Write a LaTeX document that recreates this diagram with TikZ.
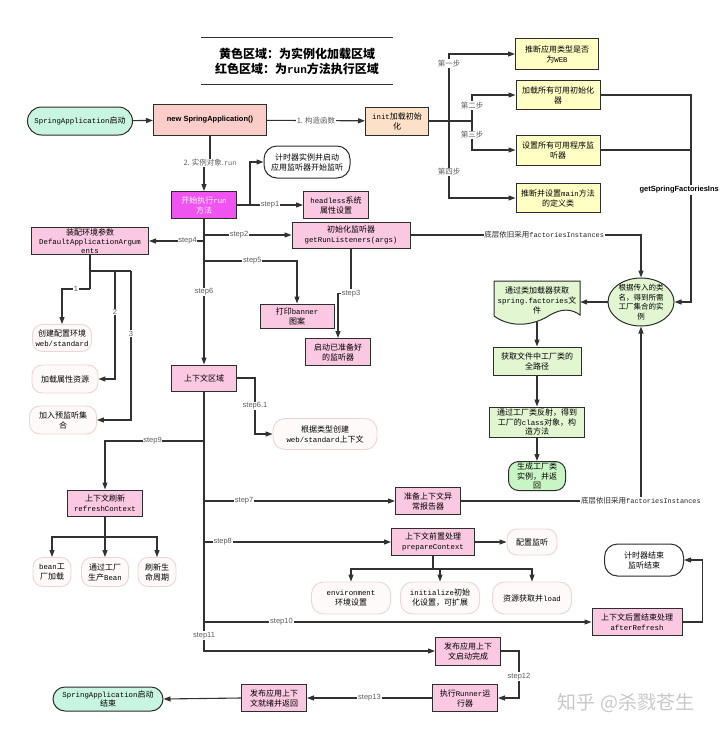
\documentclass[tikz,border=0pt]{standalone}
\usepackage{fontspec}
\setmainfont{Noto Sans CJK SC}
\newfontfamily\latf[Scale=0.92]{Liberation Mono}
\newfontfamily\sansf{Liberation Sans}
\usetikzlibrary{arrows.meta,shapes.geometric}
\newcommand\lat[1]{{\latf #1}}
\definecolor{pinkc}{RGB}{250,200,225}
\definecolor{mintc}{RGB}{200,245,225}
\definecolor{salmc}{RGB}{250,205,200}
\definecolor{peachc}{RGB}{252,225,200}
\definecolor{yelc}{RGB}{255,255,196}
\definecolor{grnc}{RGB}{226,246,210}
\definecolor{grntwo}{RGB}{200,245,195}
\definecolor{magc}{RGB}{240,84,240}
\definecolor{palef}{RGB}{254,250,250}
\definecolor{palec}{RGB}{238,212,212}
\definecolor{linec}{RGB}{50,50,50}
\definecolor{boxc}{RGB}{45,45,45}
\definecolor{lblc}{RGB}{95,95,95}
\definecolor{wmc}{RGB}{200,200,200}
\begin{document}
\begin{tikzpicture}[x=1pt,y=-1pt,
 nf/.style={font=\fontsize{8}{10}\selectfont},
 bx/.style={draw=boxc, line width=1pt, align=center, inner sep=1pt, nf, text=black},
 pinkb/.style={bx, fill=pinkc},
 yelb/.style={bx, fill=yelc},
 grnb/.style={bx, fill=grnc},
 paleb/.style={draw=palec, line width=0.9pt, fill=palef, rounded corners=10pt, align=center, inner sep=1pt, nf},
 whiteb/.style={bx, fill=white, rounded corners=13pt},
 sz/.style 2 args={minimum width=#1pt, minimum height=#2pt},
 ln/.style={draw=linec, line width=1.1pt},
 arr/.style={ln, -{Triangle[length=7pt,width=5pt]}},
 lbl/.style={font=\sansf\fontsize{7.5}{9}\selectfont, text=lblc, fill=white, inner sep=0.8pt},
 clbl/.style={font=\fontsize{7.5}{9}\selectfont, text=lblc, fill=white, inner sep=0.8pt},
 dlbl/.style={font=\fontsize{7.5}{9}\selectfont, text=black!85, fill=white, inner sep=0.8pt},
]
\fill[white] (0,0) rectangle (720,731);
\useasboundingbox (0,0) rectangle (720,731);

% title
\node[minimum width=191pt, minimum height=46pt, align=center, inner sep=0pt,
      font=\bfseries\fontsize{12}{15}\selectfont] (title) at (297,61)
      {黄色区域：为实例化加载区域\\红色区域：为\lat{run}方法执行区域};
\draw[line width=1pt, draw=linec] (title.north west) -- (title.north east);
\draw[line width=1pt, draw=linec] (title.south west) -- (title.south east);

% top row
\node[bx, fill=mintc, rounded corners=14pt, sz={105}{28}] (sa) at (80,121) {\lat{SpringApplication}启动};
\node[bx, fill=salmc, sz={113}{31}, font=\sansf\bfseries\fontsize{7.5}{9}\selectfont] (nsa) at (210,120) {new SpringApplication()};
\node[bx, fill=peachc, sz={63}{28}] (init) at (397,121) {\lat{init}加载初始\\化};

\node[yelb, sz={83}{31}] (ya) at (557,54) {推断应用类型是否\\为\lat{WEB}};
\node[yelb, sz={84}{29}] (yb) at (558,95) {加载所有可用初始化\\器};
\node[yelb, sz={84}{30}] (yc) at (558,150) {设置所有可用程序监\\听器};
\node[yelb, sz={84}{29}] (yd) at (558,198) {推断并设置\lat{main}方法\\的定义类};

% factories area
\node[ellipse, draw=boxc, line width=1pt, fill=grnc, minimum width=66pt, minimum height=48pt, inner sep=0pt] (ell) at (641,302) {};
\node[align=center, inner sep=0pt, font=\fontsize{7.5}{9.5}\selectfont] (ellt) at (ell.center) {根据传入的类\\名，得到所需\\工厂集合的实\\例};

\fill[grnc] (494,281) -- (580,281) -- (580,315) .. controls (572,309) and (562,308) .. (550,315) .. controls (535,325) and (512,329) .. (494,316) -- cycle;
\draw[draw=boxc, line width=1pt] (494,281) -- (580,281) -- (580,315) .. controls (572,309) and (562,308) .. (550,315) .. controls (535,325) and (512,329) .. (494,316) -- cycle;
\node[align=center, inner sep=0pt, nf, minimum width=86pt, minimum height=41pt] (docn) at (537,301.5) {\raisebox{3pt}{\begin{tabular}{@{}c@{}}通过类加载器获取\\\lat{spring.factories}文\\件\end{tabular}}};

\node[grnb, sz={88}{28}] (g1) at (537,361) {获取文件中工厂类的\\全路径};
\node[grnb, sz={95}{30}, font=\fontsize{8}{9.5}\selectfont] (g2) at (537,422) {通过工厂类反射，得到\\工厂的\lat{class}对象，构\\造方法};
\node[bx, fill=grntwo, rounded corners=10pt, sz={57}{29}, font=\fontsize{8}{9.5}\selectfont] (g3) at (537,476) {生成工厂类\\实例，并返\\回};

% run area
\node[bx, fill=magc, sz={65}{27}, text=white] (run) at (204,205) {开始执行\lat{run}\\方法};
\node[whiteb, sz={86}{32}] (timer) at (307,162) {计时器实例并启动\\应用监听器开始监听};
\node[pinkb, sz={65}{27}] (hl) at (336,205) {\lat{headless}系统\\属性设置};
\node[pinkb, sz={118}{26}] (grl) at (351,235) {初始化监听器\\\lat{getRunListeners(args)}};
\node[pinkb, sz={117}{26}, font=\fontsize{8}{9}\selectfont] (env) at (90,241) {装配环境参数\\\lat{DefaultApplicationArgum}\\\lat{ents}};
\node[pinkb, sz={74}{24}] (banner) at (297,316) {打印\lat{banner}\\图案};
\node[pinkb, sz={65}{27}] (started) at (338,352) {启动已准备好\\的监听器};
\node[pinkb, sz={65}{26}] (ctx) at (204,378) {上下文区域};
\node[paleb, sz={104}{31}, rounded corners=12pt] (c61) at (325,434) {根据类型创建\\\lat{web/standard}上下文};

\node[paleb, sz={59}{27}] (e1) at (62,338) {创建配置环境\\\lat{web/standard}};
\node[paleb, sz={66}{28}] (e2) at (65,379) {加载属性资源};
\node[paleb, sz={67}{28}] (e3) at (63,420) {加入预监听集\\合};

\node[pinkb, sz={75}{26}] (rc) at (105,503) {上下文刷新\\\lat{refreshContext}};
\node[paleb, sz={38}{29}] (r1) at (52,572) {\lat{bean}工\\厂加载};
\node[paleb, sz={47}{29}] (r2) at (105,572) {通过工厂\\生产\lat{Bean}};
\node[paleb, sz={38}{29}] (r3) at (157,572) {刷新生\\命周期};

\node[pinkb, sz={65}{27}] (exc) at (428,501) {准备上下文异\\常报告器};
\node[pinkb, sz={83}{27}] (pc) at (433,542) {上下文前置处理\\\lat{prepareContext}};
\node[paleb, sz={50}{26}] (cfg) at (532,542) {配置监听};
\node[paleb, sz={79}{32}, rounded corners=12pt] (p1) at (351,598) {\lat{environment}\\环境设置};
\node[paleb, sz={79}{32}, rounded corners=12pt] (p2) at (440,598) {\lat{initialize}初始\\化设置，可扩展};
\node[paleb, sz={79}{32}, rounded corners=12pt] (p3) at (532,598) {资源获取并\lat{load}};

\node[pinkb, sz={90}{27}] (ar) at (637,622) {上下文后置结束处理\\\lat{afterRefresh}};
\node[whiteb, sz={79}{32}] (tend) at (644,560) {计时器结束\\监听结束};

\node[pinkb, sz={65}{28}] (pub) at (468,651) {发布应用上下\\文启动完成};
\node[pinkb, sz={65}{27}] (runr) at (465,698) {执行\lat{Runner}运\\行器};
\node[pinkb, sz={65}{27}] (ready) at (274,698) {发布应用上下\\文就绪并返回};
\node[bx, fill=mintc, rounded corners=12pt, sz={110}{24}, font=\fontsize{8}{9}\selectfont] (saend) at (108,699) {\lat{SpringApplication}启动\\结束};

\node[text=wmc, font=\fontsize{19}{22}\selectfont, inner sep=0pt] (wm) at (626,703) {知乎 @杀戮苍生};

% coordinates
\coordinate (b1) at (449,121);
\coordinate (b2) at (472,121);
\coordinate (gtop) at (691,95);
\coordinate (t2) at (204,235);
\coordinate (t4) at (204,241);
\coordinate (t5) at (204,261);
\coordinate (t9) at (204,441);
\coordinate (t7) at (204,501);
\coordinate (t8) at (204,542);
\coordinate (t10) at (204,622);
\coordinate (ej) at (90,271);
\coordinate (ec1) at (90,289);
\coordinate (ec2) at (115,271);
\coordinate (ec3) at (131,271);
\coordinate (rj) at (105,537);
\coordinate (pj) at (433,569);

% connectors top
\draw[arr] (sa) -- (nsa);
\draw[arr] (nsa) -- node[clbl]{1. 构造函数} (init);
\draw[ln] (init.east) -- (b2);
\draw[arr] (b1) |- node[clbl, pos=0.43]{第一步} (ya.west);
\draw[arr] (b1) |- node[clbl, pos=0.33]{第四步} (yd.west);
\draw[arr] (b2) |- node[clbl, pos=0.3]{第二步} (yb.west);
\draw[arr] (b2) |- node[clbl, pos=0.24]{第三步} (yc.west);

\draw[arr] (yb.east) -- (gtop) |- (ell.east);
\draw[ln] (yc.east) -- (yc.east -| gtop);
\node[font=\sansf\bfseries\fontsize{7.5}{9}\selectfont, fill=white, anchor=east, inner sep=1pt] (gsf) at (720,190) {getSpringFactoriesIns};

\draw[arr] (grl.east) -| node[dlbl, pos=0.29]{底层依旧采用\lat{factoriesInstances}} (ell.north);
\draw[arr] (ell.west) -- (ell.west -| docn.east);
\draw[arr] (docn.south) -- (g1.north);
\draw[arr] (g1) -- (g2);
\draw[arr] (g2) -- (g3);
\draw[arr] (exc.east) -| node[dlbl, pos=0.5]{底层依旧采用\lat{factoriesInstances}} (ell.south);

% run connectors
\draw[arr] (nsa.south) -- ++(0,27) node[clbl]{2. 实例对象.\lat{run}} -| (run.north);
\draw[arr] (run.east) -- ++(13,0) |- (timer.west);
\draw[arr] (run.east) -- node[lbl]{step1} (hl.west);
\draw[arr] (run.south) -- node[lbl, pos=0.5]{step6} (ctx.north);
\draw[arr] (t2) -- node[lbl, pos=0.4]{step2} (grl.west);
\draw[arr] (t4) -- node[lbl, pos=0.3]{step4} (env.east);
\draw[arr] (t5) -| node[lbl, pos=0.26]{step5} (banner.north);
\draw[arr] (grl.south) -- ++(0,45) node[lbl]{step3} -| (started.north);

\draw[ln] (env.south) -- (ec1);
\draw[arr] (ec1) -| node[lbl, pos=0.25]{1} (e1.north);
\draw[ln] (ej) -- (ec3);
\draw[arr] (ec2) |- node[lbl, pos=0.19]{2} (e2.east);
\draw[arr] (ec3) |- node[lbl, pos=0.21]{3} (e3.east);

\draw[arr] (ctx.east) -- ++(18,0) |- node[lbl, pos=0.25]{step6.1} (c61.west);
\draw[arr] (ctx.south) |- node[lbl, pos=0.47]{step11} (pub.west);
\draw[arr] (t9) -| node[lbl, pos=0.26]{step9} (rc.north);
\draw[arr] (t7) -- node[lbl, pos=0.21]{step7} (exc.west);
\draw[arr] (t8) -- node[lbl, pos=0.1]{step8} (pc.west);
\draw[arr] (t10) -- node[lbl, pos=0.2]{step10} (ar.west);

\draw[ln] (rc.south) -- (rj);
\draw[arr] (rj) -| (r1.north);
\draw[arr] (rj) -- (r2.north);
\draw[arr] (rj) -| (r3.north);

\draw[arr] (pc.east) -- (cfg.west);
\draw[ln] (pc.south) -- (pj);
\draw[arr] (pj) -| (p1.north);
\draw[arr] (pj) -| (p2.north);
\draw[arr] (pj) -| (p3.north);

\draw[arr] (ar.east) -- ++(20,0) |- (tend.east);
\draw[arr] (pub.east) -- ++(18,0) |- node[lbl, pos=0.27]{step12} (runr.east);
\draw[arr] (runr.west) -- node[lbl]{step13} (ready.east);
\draw[arr] (ready.west) -- (saend.east);
\end{tikzpicture}
\end{document}
